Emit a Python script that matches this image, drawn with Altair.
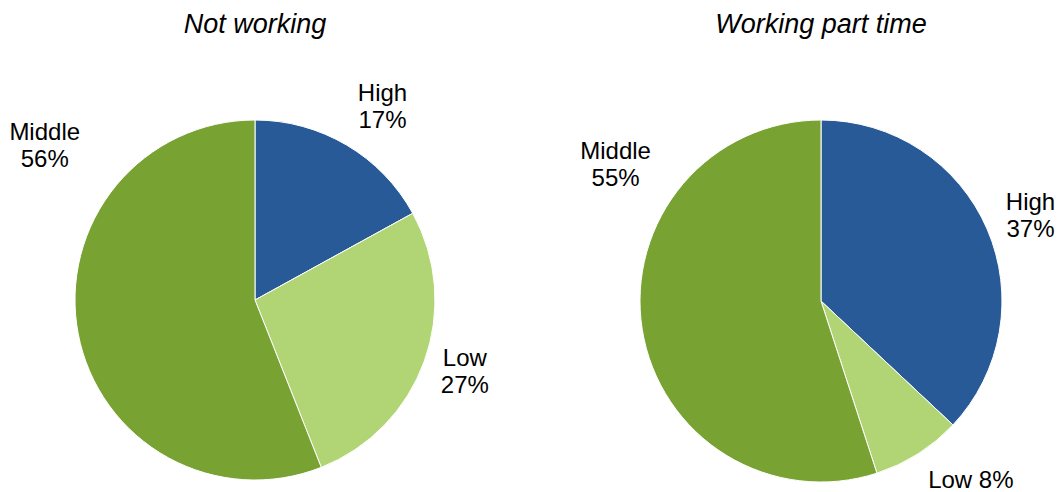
import altair as alt
import pandas as pd

# ---- data ----
panels = ["Not working", "Not working", "Not working",
          "Working part time", "Working part time", "Working part time"]
groups = ["High", "Low", "Middle", "High", "Low", "Middle"]
shares = [17, 27, 56, 37, 8, 55]
orders = [1, 2, 3, 1, 2, 3]
labels = ["High\n17%", "Low\n27%", "Middle\n56%",
          "High\n37%", "Low 8%", "Middle\n55%"]
titles = ["Not working", "Working part time"]

df = pd.DataFrame({"panel": panels, "group": groups, "share": shares,
                   "order": orders, "label": labels})

color_scale = alt.Scale(domain=["High", "Low", "Middle"],
                        range=["#285A98", "#B1D574", "#78A232"])
theta_scale = alt.Scale(domain=[0, 100])

FONT = "Liberation Sans"

base = alt.Chart(df).transform_stack(
    stack="share", groupby=["panel"], as_=["start", "end"],
    sort=[alt.SortField("order", order="ascending")]
).transform_calculate(mid="(datum.start + datum.end) / 2")

# pie centres / radii (layout)
centres = {"Not working": (247, 292, 180), "Working part time": (813, 293, 181)}

layers = []
for p in titles:
    cx, cy, r = centres[p]
    layers.append(
        base.transform_filter(alt.datum.panel == p)
        .mark_arc(radius=r, stroke="white", strokeWidth=1)
        .encode(theta=alt.Theta("start:Q", scale=theta_scale),
                theta2="end:Q",
                color=alt.Color("group:N", scale=color_scale, legend=None),
                x=alt.value(cx), y=alt.value(cy))
    )

# label placement tweaks (layout): radius, dx, dy
label_layout = {
    ("Not working", "High"): (225, 13, -12),
    ("Not working", "Low"): (222, 1, -16),
    ("Not working", "Middle"): (210, -4, -206),
    ("Working part time", "High"): (225, 3, -9),
    ("Working part time", "Low"): (233, 25, -17),
    ("Working part time", "Middle"): (210, 2, -182),
}

for (p, g), (rad, dx, dy) in label_layout.items():
    cx, cy, _ = centres[p]
    layers.append(
        base.transform_filter((alt.datum.panel == p) & (alt.datum.group == g))
        .mark_text(radius=rad, dx=dx, dy=dy, font=FONT, fontSize=24,
                   lineBreak="\n", lineHeight=27, align="center",
                   baseline="middle", color="#000000")
        .encode(theta=alt.Theta("mid:Q", scale=theta_scale),
                text="label:N",
                x=alt.value(cx), y=alt.value(cy))
    )

for p in titles:
    cx, cy, _ = centres[p]
    layers.append(
        alt.Chart(pd.DataFrame({"t": [p]}))
        .mark_text(font=FONT, fontSize=27, fontStyle="italic",
                   align="center", baseline="middle", color="#000000")
        .encode(text="t:N", x=alt.value(cx), y=alt.value(17))
    )

chart = alt.layer(*layers).properties(
    width=1048, height=484, padding=0, autosize="none"
).configure_view(stroke=None)

chart.save("out.html", embed_options={"renderer": "svg", "actions": False})
